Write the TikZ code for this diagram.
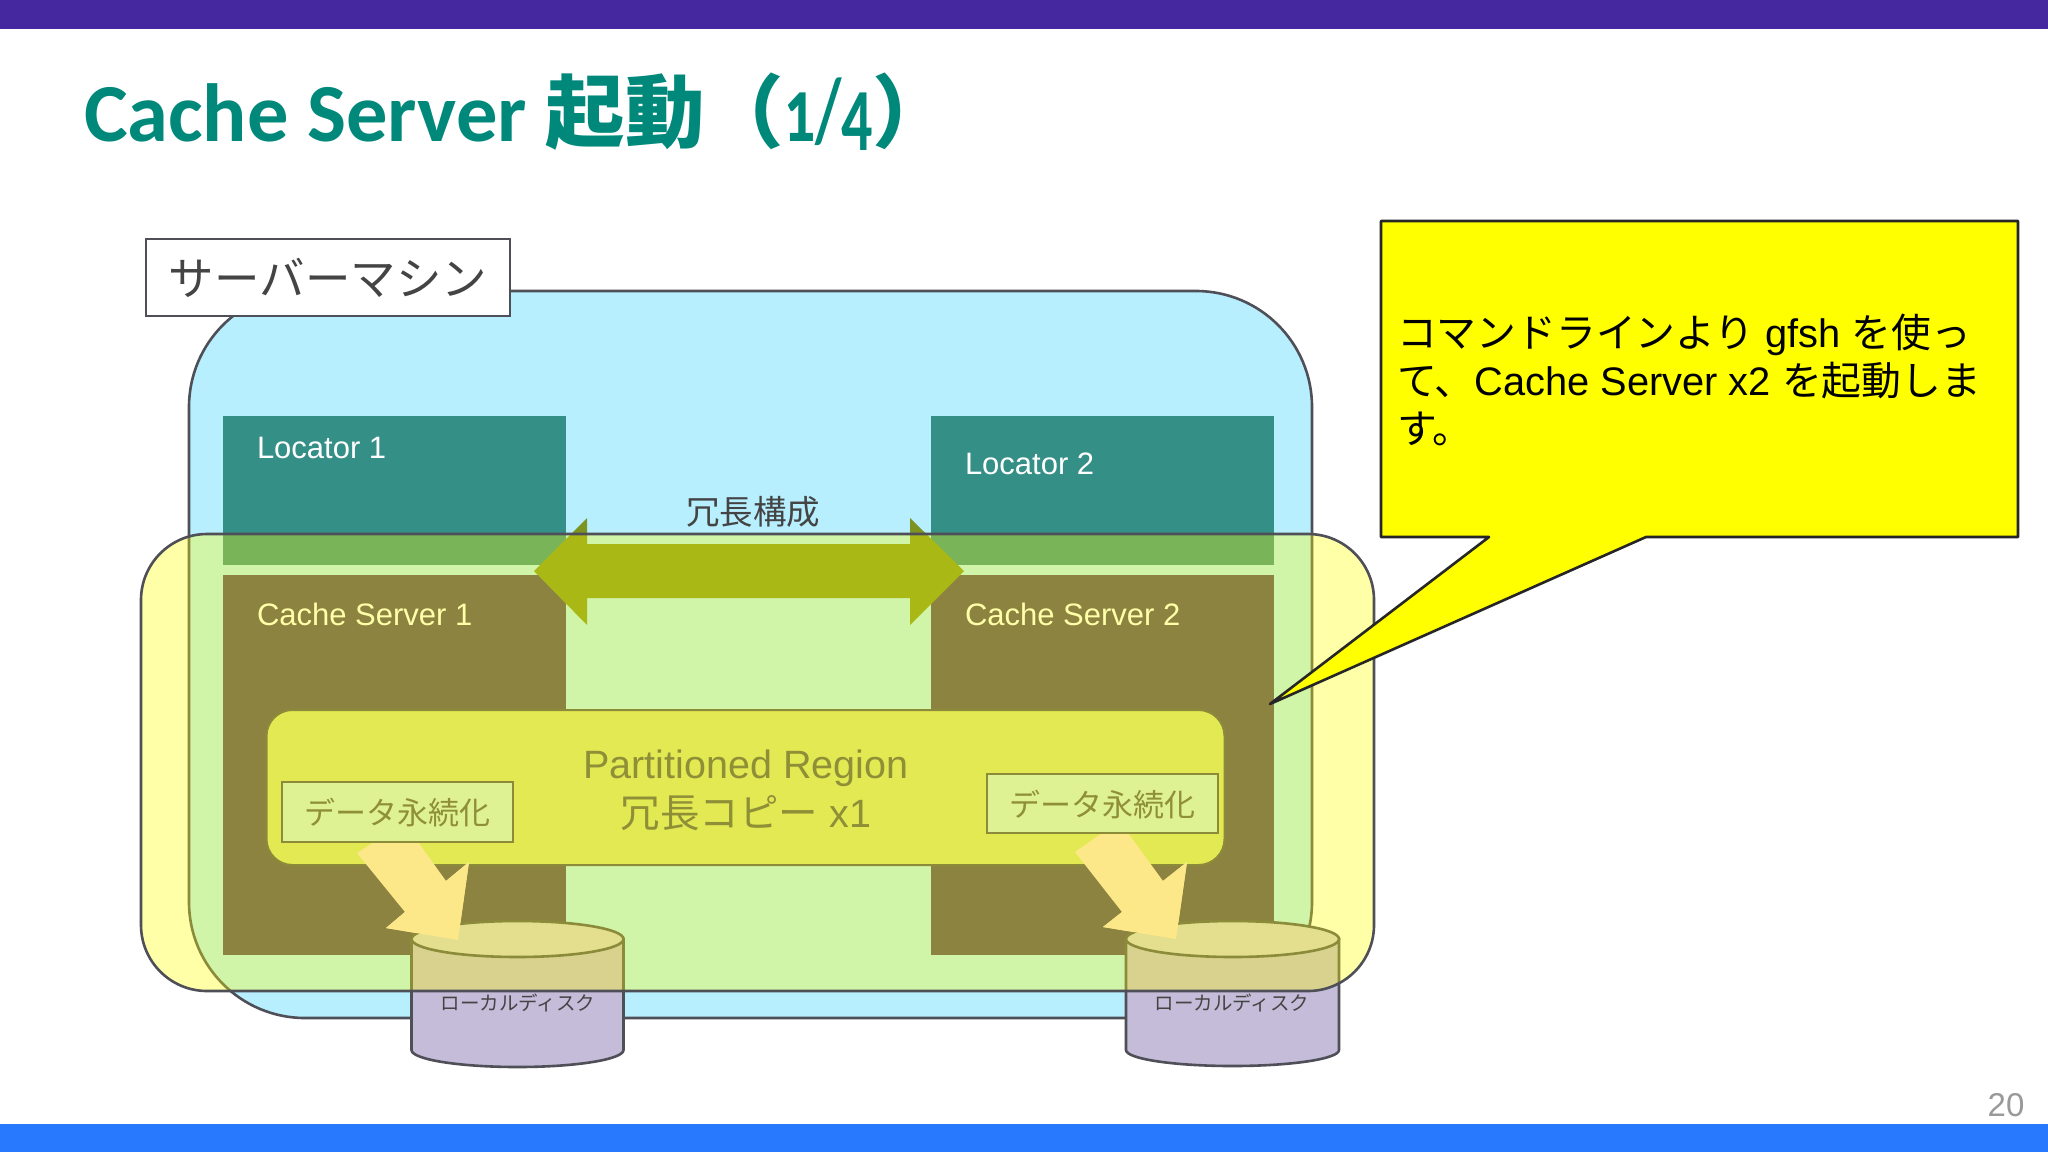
\documentclass[tikz,border=0pt]{standalone}
\usepackage{fontspec}
\setmainfont{Liberation Sans}
\newfontfamily\cjk{Noto Sans CJK JP}
\newfontfamily\titlefont[Numbers=OldStyle]{Carlito}
\definecolor{barpurple}{HTML}{4527A0}
\definecolor{barblue}{HTML}{2979FF}
\definecolor{titleteal}{HTML}{00897B}
\definecolor{machinefill}{HTML}{B8EFFF}
\definecolor{lineink}{HTML}{4F4F58}
\definecolor{locfill}{HTML}{348F87}
\definecolor{csfill}{HTML}{524364}
\definecolor{regionfill}{HTML}{D6DE7E}
\definecolor{persistfill}{HTML}{CEEBE0}
\definecolor{flowfill}{HTML}{FBDDD1}
\definecolor{disktop}{HTML}{D5CFDA}
\definecolor{diskbody}{HTML}{C4BCD8}
\definecolor{dblarrow}{HTML}{7E9420}
\definecolor{textink}{HTML}{444444}
\definecolor{regionink}{HTML}{555555}
\definecolor{pureyellow}{HTML}{FFFF00}
\tikzset{
  px/.style={font=\fontsize{#1}{#1}\selectfont},
  lbl/.style={inner sep=0pt,outer sep=0pt},
  boxtext/.style={lbl,anchor=base west,text=white,px=31},
  outline/.style={draw=lineink,line width=2.6pt},
  thinline/.style={draw=lineink,line width=2pt},
  flow/.style={fill=flowfill,draw=none},
  disklabel/.style={lbl,text=textink,px=19.5},
  persistbox/.style={fill=persistfill,thinline},
  persisttext/.style={lbl,text=regionink,px=31},
}
\begin{document}
\begin{tikzpicture}[x=1pt,y=-1pt]
\useasboundingbox (0,0) rectangle (2048,1152);
\fill[white] (0,0) rectangle (2048,1152);
% bars
\fill[barpurple] (0,0) rectangle (2048,29);
\fill[barblue] (0,1124) rectangle (2048,1152);
% title
\node[lbl,anchor=base west,text=titleteal,font=\fontsize{82.5}{82.5}\selectfont\bfseries] (title) at (84,141)
  {\titlefont Cache Server {\cjk\fontsize{79.5}{79.5}\selectfont 起動（}\scalebox{0.74}[1.1]{1/4}{\cjk\fontsize{79.5}{79.5}\selectfont ）}};
% machine
\draw[fill=machinefill,outline,rounded corners=116pt] (189,291) rectangle (1312,1018);
% locators and cache servers
\fill[locfill] (223,416) rectangle (566,565);
\fill[locfill] (931,416) rectangle (1274,565);
\fill[csfill] (223,575) rectangle (566,955);
\fill[csfill] (931,575) rectangle (1274,955);
\node[boxtext] (loc1) at (257,458) {Locator 1};
\node[boxtext] (loc2) at (965,474) {Locator 2};
\node[boxtext] (cs1) at (257,625) {Cache Server 1};
\node[boxtext] (cs2) at (965,625) {Cache Server 2};
% double arrow
\fill[dblarrow] (534,571) -- (587,518) -- (587,544) -- (910,544) -- (910,518) -- (964,571) -- (910,625) -- (910,598) -- (587,598) -- (587,625) -- cycle;
\node[lbl,text=textink,px=33.5] (redundant) at (753,512) {\cjk 冗長構成};
% region
\draw[fill=regionfill,thinline,rounded corners=26pt] (266.5,710) rectangle (1224.5,865);
\node[lbl,anchor=base,text=regionink,px=39.5] (region1) at (746,778) {Partitioned Region};
\node[lbl,anchor=base,text=regionink,px=39.5] (region2) at (746,827) {{\cjk 冗長コピー} x1};
% flows
\path[flow] (374,842) -- (418,842) -- (446,881) -- (469,862) -- (458,940) -- (386,928) -- (405,912) -- (357,853) -- cycle;
\path[flow] (1102,833) -- (1128,833) -- (1163,881) -- (1187,862) -- (1176,939) -- (1103,927) -- (1122,912) -- (1075,852) -- cycle;
% persistence boxes
\draw[persistbox] (282,782) rectangle (513,842);
\draw[persistbox] (987,774) rectangle (1218,833);
\node[persisttext] (persist1) at (397,813) {\cjk データ永続化};
\node[persisttext] (persist2) at (1102,805) {\cjk データ永続化};
% disks
\path[fill=diskbody,outline] (411.5,939) -- (411.5,1050) arc[start angle=180,end angle=0,x radius=106,y radius=17] -- (623.5,939) -- cycle;
\path[fill=disktop,outline] (517.5,939) ellipse[x radius=106,y radius=18];
\path[fill=diskbody,outline] (1126,939) -- (1126,1050) arc[start angle=180,end angle=0,x radius=106.5,y radius=16] -- (1339,939) -- cycle;
\path[fill=disktop,outline] (1232.5,939) ellipse[x radius=106.5,y radius=18];
% arrow tips overlap the disk tops
\path[flow] (446,881) -- (469,862) -- (458,940) -- (386,928) -- (405,912) -- cycle;
\path[flow] (1163,881) -- (1187,862) -- (1176,939) -- (1103,927) -- (1122,912) -- cycle;
\node[disklabel] (disk1) at (518,1003) {\cjk ローカルディスク};
\node[disklabel] (disk2) at (1232,1003) {\cjk ローカルディスク};
% yellow overlay
\draw[fill=pureyellow,fill opacity=.34,draw=lineink,line width=2.6pt,rounded corners=66pt] (141,534) rectangle (1374,991);
% machine label
\node[draw=lineink,line width=2pt,fill=white,lbl,minimum width=364pt,minimum height=77pt,text=textink,px=45.5] (machine) at (328,277.5) {\cjk サーバーマシン};
% callout
\draw[fill=pureyellow,draw=black!85,line width=2.6pt,line join=round] (1381,221) -- (2018,221) -- (2018,537) -- (1646,537) -- (1270,704) -- (1489,537) -- (1381,537) -- cycle;
\node[lbl,anchor=base west,align=left,text=black,font=\fontsize{39.8}{48}\selectfont] (note) at (1397,443)
  {{\cjk コマンドラインより} gfsh {\cjk を使っ}\\{\cjk て、}Cache Server x2 {\cjk を起動しま}\\{\cjk す。}};
% page number
\node[lbl,text=black!40,px=33] (page) at (2006,1105) {20};
\end{tikzpicture}
\end{document}
